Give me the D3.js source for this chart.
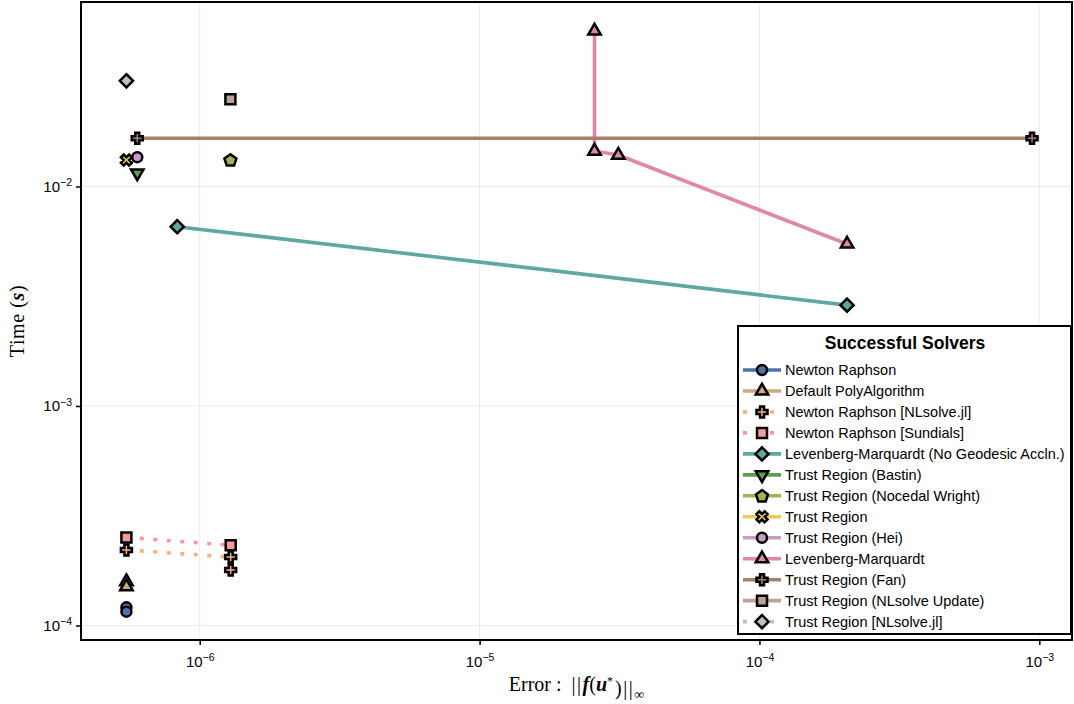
<!DOCTYPE html>
<html>
<head>
<meta charset="utf-8">
<script src="https://cdn.jsdelivr.net/npm/d3@7"></script>
<style>
  body { margin: 0; background: #fff; }
  svg { display: block; }
</style>
</head>
<body>
<div id="chart"></div>
<script>
// ---- data ----
const solverNames = [
  'Newton Raphson',
  'Default PolyAlgorithm',
  'Newton Raphson [NLsolve.jl]',
  'Newton Raphson [Sundials]',
  'Levenberg-Marquardt (No Geodesic Accln.)',
  'Trust Region (Bastin)',
  'Trust Region (Nocedal Wright)',
  'Trust Region',
  'Trust Region (Hei)',
  'Levenberg-Marquardt',
  'Trust Region (Fan)',
  'Trust Region (NLsolve Update)',
  'Trust Region [NLsolve.jl]'
]
// error ||f(u*)||inf per solver
const errors = [
  [5.47e-7, 5.47e-7],
  [5.47e-7, 5.47e-7],
  [5.47e-7, 1.29e-6, 1.29e-6],
  [5.47e-7, 1.29e-6],
  [8.31e-7, 2.056e-4],
  [5.98e-7],
  [1.287e-6],
  [5.47e-7],
  [5.98e-7],
  [2.574e-5, 2.574e-5, 3.13e-5, 2.056e-4],
  [5.98e-7, 9.42e-4],
  [1.287e-6],
  [5.47e-7]
]
// time (s) per solver
const times = [
  [1.21e-4, 1.156e-4],
  [1.585e-4, 1.503e-4],
  [2.21e-4, 2.05e-4, 1.79e-4],
  [2.52e-4, 2.32e-4],
  [6.56e-3, 2.88e-3],
  [1.152e-2],
  [1.32e-2],
  [1.32e-2],
  [1.36e-2],
  [5.11e-2, 1.45e-2, 1.39e-2, 5.47e-3],
  [1.66e-2, 1.66e-2],
  [2.50e-2],
  [3.03e-2]
]
const xTickValues = [1e-6, 1e-5, 1e-4, 1e-3]
const yTickValues = [1e-4, 1e-3, 1e-2]
const legendTitle = 'Successful Solvers'

// ---- styles ----
const seriesColors = ['#4c74a4', '#d3a77a', '#f8b07a', '#f99a98', '#5da8a0', '#5aa04e',
  '#9cb653', '#ecc75e', '#ca9bc7', '#e088a6', '#a87e6e', '#bba398', '#c5bebb']
const seriesMarkers = ['circle', 'utriangle', 'cross', 'rect', 'diamond', 'dtriangle',
  'pentagon', 'xcross', 'circle', 'utriangle', 'cross', 'rect', 'diamond']
const seriesDotted = [false, false, true, true, false, false, false, false, false, false, false, false, true]

const width = 1074, height = 704
const margin = { left: 81, top: 2, right: 2, bottom: 64 }
const x0 = margin.left, x1 = width - margin.right
const y0 = margin.top, y1 = height - margin.bottom

const x = d3.scaleLog().domain([10 ** -6.4243, 10 ** -2.8832]).range([x0, x1])
const y = d3.scaleLog().domain([10 ** -4.0661, 10 ** -1.1595]).range([y1, y0])

// marker shapes as custom d3 symbol types
const poly = (ctx, pts) => {
  pts.forEach((p, i) => i ? ctx.lineTo(p[0], p[1]) : ctx.moveTo(p[0], p[1]))
  ctx.closePath()
}
const crossPts = (L, T, rot) => {
  const base = [[-T, -L], [T, -L], [T, -T], [L, -T], [L, T], [T, T], [T, L], [-T, L], [-T, T], [-L, T], [-L, -T], [-T, -T]]
  const c = Math.cos(rot), s = Math.sin(rot)
  return base.map(([a, b]) => [a * c - b * s, a * s + b * c])
}
const markerTypes = {
  circle: { draw(ctx) { ctx.moveTo(5, 0); ctx.arc(0, 0, 5, 0, 2 * Math.PI) } },
  utriangle: { draw(ctx) { const r = 7.2; poly(ctx, [[0, -r], [r * 0.866, r * 0.5], [-r * 0.866, r * 0.5]]) } },
  dtriangle: { draw(ctx) { const r = 7.2; poly(ctx, [[0, r], [r * 0.866, -r * 0.5], [-r * 0.866, -r * 0.5]]) } },
  rect: { draw(ctx) { poly(ctx, [[-5, -5], [5, -5], [5, 5], [-5, 5]]) } },
  diamond: { draw(ctx) { const r = 6.6; poly(ctx, [[0, -r], [r, 0], [0, r], [-r, 0]]) } },
  pentagon: { draw(ctx) {
    const r = 6.3
    poly(ctx, d3.range(5).map(k => {
      const a = -Math.PI / 2 + k * 2 * Math.PI / 5
      return [r * Math.cos(a), r * Math.sin(a) + 0.5]
    }))
  } },
  cross: { draw(ctx) { poly(ctx, crossPts(5.5, 2, 0)) } },
  xcross: { draw(ctx) { poly(ctx, crossPts(5.8, 2, Math.PI / 4)) } }
}
const symbolGen = d3.symbol()

const svg = d3.select('#chart').append('svg')
  .attr('width', width)
  .attr('height', height)
  .style('font-family', '"Liberation Sans", Arial, sans-serif')

// grid
svg.append('g')
  .selectAll('line')
  .data(xTickValues)
  .enter()
  .append('line')
  .attr('x1', d => x(d)).attr('x2', d => x(d))
  .attr('y1', y0).attr('y2', y1)
  .attr('stroke', '#ebebeb').attr('stroke-width', 1)
svg.append('g')
  .selectAll('line')
  .data(yTickValues)
  .enter()
  .append('line')
  .attr('x1', x0).attr('x2', x1)
  .attr('y1', d => y(d)).attr('y2', d => y(d))
  .attr('stroke', '#ebebeb').attr('stroke-width', 1)

// axes with 10^n labels
const powLabel = (g) => {
  g.selectAll('.tick text').each(function (d) {
    const t = d3.select(this).text('')
    t.append('tspan').text('10')
    t.append('tspan').attr('dy', '-0.55em').attr('font-size', '10.5px')
      .text('\u2212' + Math.abs(Math.round(Math.log10(d))))
  })
}
const sans = '"Liberation Sans", Arial, sans-serif'
svg.append('g')
  .attr('transform', `translate(0, ${y1})`)
  .call(d3.axisBottom(x).tickValues(xTickValues).tickSize(5).tickPadding(11).tickFormat(() => ''))
  .call(g => g.select('.domain').remove())
  .call(g => g.selectAll('.tick line').attr('stroke', '#000').attr('stroke-width', 1.5))
  .call(g => g.selectAll('.tick text').attr('font-size', '15px').attr('fill', '#000').attr('font-family', sans))
  .call(powLabel)
svg.append('g')
  .attr('transform', `translate(${x0}, 0)`)
  .call(d3.axisLeft(y).tickValues(yTickValues).tickSize(5).tickPadding(4).tickFormat(() => ''))
  .call(g => g.select('.domain').remove())
  .call(g => g.selectAll('.tick line').attr('stroke', '#000').attr('stroke-width', 1.5))
  .call(g => g.selectAll('.tick text').attr('font-size', '15px').attr('fill', '#000').attr('font-family', sans))
  .call(powLabel)

// series: line then markers, in order
const lineGen = d3.line().x(d => x(d[0])).y(d => y(d[1]))
solverNames.forEach((name, i) => {
  const pts = errors[i].map((e, k) => [e, times[i][k]])
  const g = svg.append('g')
  g.append('path')
    .attr('d', lineGen(pts))
    .attr('fill', 'none')
    .attr('stroke', seriesColors[i])
    .attr('stroke-width', 3.6)
    .attr('stroke-dasharray', seriesDotted[i] ? '4 9.5' : null)
  g.selectAll('path.marker')
    .data(pts)
    .enter()
    .append('path')
    .attr('class', 'marker')
    .attr('transform', d => `translate(${x(d[0])}, ${y(d[1])})`)
    .attr('d', symbolGen.type(markerTypes[seriesMarkers[i]]))
    .attr('fill', seriesColors[i])
    .attr('stroke', '#000')
    .attr('stroke-width', 2.5)
    .attr('stroke-linejoin', 'miter')
})

// frame
svg.append('rect')
  .attr('x', x0).attr('y', y0)
  .attr('width', x1 - x0).attr('height', y1 - y0)
  .attr('fill', 'none').attr('stroke', '#000').attr('stroke-width', 2)

// axis labels
const serif = '"Liberation Serif", "DejaVu Serif", serif'
const xl = svg.append('text')
  .attr('x', (x0 + x1) / 2).attr('y', 691)
  .attr('text-anchor', 'middle')
  .attr('font-family', serif).attr('font-size', '20px')
xl.append('tspan').text('Error :')
xl.append('tspan').attr('dx', 10).attr('letter-spacing', '1.5px').text('||')
xl.append('tspan').attr('font-weight', 'bold').attr('font-style', 'italic').text('f')
xl.append('tspan').text('(')
xl.append('tspan').attr('font-weight', 'bold').attr('font-style', 'italic').text('u')
xl.append('tspan').attr('dy', '-0.5em').attr('font-size', '12px').text('*')
xl.append('tspan').attr('dy', '0.5em').attr('dx', 2).attr('letter-spacing', '1.5px').text(')||')
xl.append('tspan').attr('dy', '0.25em').attr('font-size', '14px').text('\u221e')

const yl = svg.append('text')
  .attr('transform', `translate(24, ${(y0 + y1) / 2}) rotate(-90)`)
  .attr('text-anchor', 'middle')
  .attr('font-family', serif).attr('font-size', '20px')
  .attr('letter-spacing', '0.6px')
yl.append('tspan').text('Time (')
yl.append('tspan').attr('font-weight', 'bold').attr('font-style', 'italic').text('s')
yl.append('tspan').text(')')

// legend
const leg = svg.append('g').attr('transform', 'translate(738, 326)')
leg.append('rect')
  .attr('width', 333).attr('height', 308)
  .attr('fill', '#fff').attr('stroke', '#000').attr('stroke-width', 2)
leg.append('text')
  .attr('x', 167).attr('y', 17)
  .attr('text-anchor', 'middle').attr('dominant-baseline', 'central')
  .attr('font-size', '17.5px').attr('font-weight', 'bold')
  .text(legendTitle)
const rows = leg.selectAll('g.row')
  .data(solverNames)
  .enter()
  .append('g')
  .attr('class', 'row')
  .attr('transform', (d, i) => `translate(0, ${44 + i * 20.97})`)
rows.append('line')
  .attr('x1', 5).attr('x2', 43)
  .attr('stroke', (d, i) => seriesColors[i])
  .attr('stroke-width', 3.6)
  .attr('stroke-dasharray', (d, i) => seriesDotted[i] ? '4 9.5' : null)
rows.append('path')
  .attr('transform', 'translate(24, 0)')
  .attr('d', (d, i) => symbolGen.type(markerTypes[seriesMarkers[i]])())
  .attr('fill', (d, i) => seriesColors[i])
  .attr('stroke', '#000').attr('stroke-width', 2.5)
rows.append('text')
  .attr('x', 47).attr('dominant-baseline', 'central')
  .attr('font-size', '14.5px')
  .text(d => d)
</script>
</body>
</html>
